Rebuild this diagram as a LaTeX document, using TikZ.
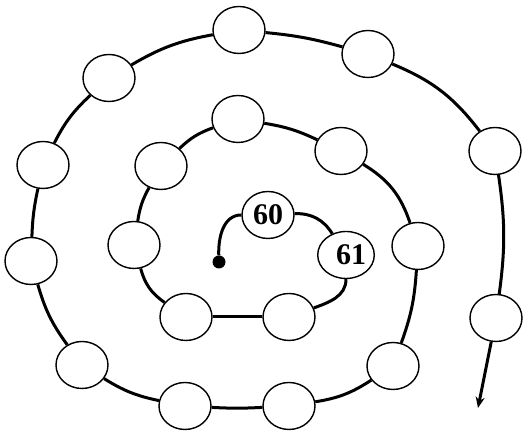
\documentclass[tikz,border=0pt]{standalone}
\usepackage{fontspec}
\setmainfont{Liberation Serif}
\usetikzlibrary{arrows.meta,shapes.geometric}

\begin{document}
\begin{tikzpicture}[
                x=1pt, y=1pt,
                stone/.style={ellipse, draw=black, line width=1.4pt, fill=white, minimum width=52pt, minimum height=47pt, inner sep=0pt, font=\fontsize{30}{30}\selectfont\bfseries},
                trail/.style={line width=3pt, black},
            ]
            \useasboundingbox (0,0) rectangle (531,435);
            \node[circle, fill=black, minimum size=13pt, inner sep=0pt] (start) at (219,173) {};
            \node[stone] (n60) at (268,220) {60};
            \node[stone, text depth=-5pt] (n61) at (346,180) {\hspace*{10pt}61};
            \node[stone] (n62) at (289,118) {};
            \node[stone] (n63) at (186,118) {};
            \node[stone] (n64) at (134,190) {};
            \node[stone] (n65) at (161,269) {};
            \node[stone] (n66) at (238,316) {};
            \node[stone] (n67) at (341,284) {};
            \node[stone] (n68) at (418,189) {};
            \node[stone] (n69) at (393,69)  {};
            \node[stone] (n70) at (289,29)  {};
            \node[stone] (n71) at (185,29)  {};
            \node[stone] (n72) at (82,70)   {};
            \node[stone] (n73) at (31,174)  {};
            \node[stone] (n74) at (43,270)  {};
            \node[stone] (n75) at (109,357) {};
            \node[stone] (n76) at (239,405) {};
            \node[stone] (n77) at (368,381) {};
            \node[stone] (n78) at (495,284) {};
            \node[stone] (n79) at (496,117) {};
            \coordinate (finish) at (478,27);

            \draw[trail] (start) to[out=92,in=180] (n60);
            \draw[trail] (n60) to[bend left=30] (n61);
            \draw[trail] (n61) to[out=-90,in=20] (n62);
            \draw[trail] (n62) -- (n63);
            \draw[trail] (n63) to[bend left=20] (n64);
            \draw[trail] (n64) to[bend left=10] (n65);
            \draw[trail] (n65) to[bend left=12] (n66);
            \draw[trail] (n66) to[bend left=8] (n67);
            \draw[trail] (n67) to[bend left=20] (n68);
            \draw[trail] (n68) to[bend left=8] (n69);
            \draw[trail] (n69) to[bend left=12] (n70);
            \draw[trail] (n70) to[bend left=3] (n71);
            \draw[trail] (n71) to[bend left=10] (n72);
            \draw[trail] (n72) to[bend left=10] (n73);
            \draw[trail] (n73) to[bend left=5] (n74);
            \draw[trail] (n74) to[bend left=10] (n75);
            \draw[trail] (n75) to[bend left=10] (n76);
            \draw[trail] (n76) to[bend left=5] (n77);
            \draw[trail] (n77) to[bend left=15] (n78);
            \draw[trail] (n78) to[bend left=8] (n79);
            \draw[trail, -{Stealth[length=11pt,width=9pt]}] (n79) -- (finish);
        \end{tikzpicture}
\end{document}
